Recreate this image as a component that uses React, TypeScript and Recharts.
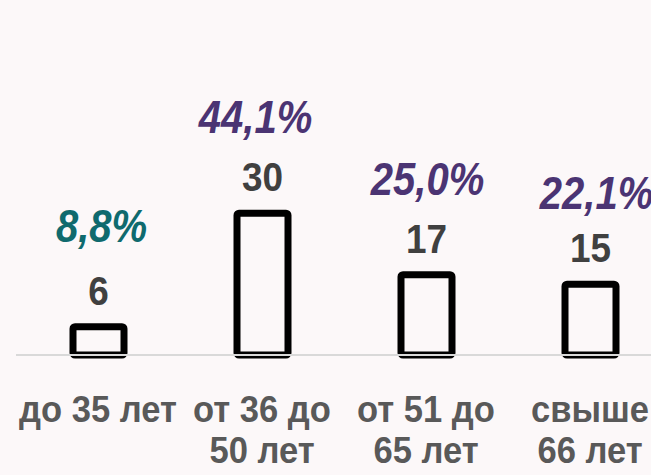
import { BarChart, Bar, XAxis, YAxis, LabelList } from 'recharts';

const categories = ['до 35 лет', 'от 36 до|50 лет', 'от 51 до|65 лет', 'свыше|66 лет'];
const counts = [6, 30, 17, 15];
const shares = ['8,8%', '44,1%', '25,0%', '22,1%'];
const shareColors = ['#0F6A6E', '#4B3473', '#4B3473', '#4B3473'];
// the percent labels sit a little off-centre in the original
const shareDx = [3, -7, 1, 6];
const shareDy = [85, 80, 80, 75];

const data = categories.map((name, i) => ({ name, count: counts[i], share: shares[i] }));

const FONT = "'Liberation Sans', Arial, sans-serif";

// the reference uses a condensed face, so squeeze Liberation Sans horizontally
const Narrow = ({ x, y, size, squeeze, color, italic, children }: any) => (
  <text
    transform={`translate(${x},${y}) scale(${squeeze},1)`}
    textAnchor="middle"
    fontFamily={FONT}
    fontWeight="bold"
    fontStyle={italic ? 'italic' : 'normal'}
    fontSize={size}
    fill={color}
  >
    {children}
  </text>
);

const CategoryTick = ({ x, y, payload }: any) => {
  const lines = String(payload.value).split('|');
  return (
    <g>
      {lines.map((line, i) => (
        <Narrow key={i} x={x} y={y + 59 + i * 41} size={36} squeeze={0.96} color="#595959">
          {line}
        </Narrow>
      ))}
    </g>
  );
};

const CountLabel = ({ x, y, width, value }: any) => (
  <Narrow x={x + width / 2} y={y - 22} size={41} squeeze={0.9} color="#404040">
    {value}
  </Narrow>
);

const ShareLabel = ({ x, y, width, value, index }: any) => (
  <Narrow
    x={x + width / 2 + shareDx[index]}
    y={y - shareDy[index]}
    size={46}
    squeeze={0.87}
    color={shareColors[index]}
    italic
  >
    {value}
  </Narrow>
);

export default function App() {
  return (
    <div
      style={{
        position: 'fixed',
        left: 0,
        top: 0,
        width: 651,
        height: 475,
        overflow: 'hidden',
        background: '#FCF8F9',
      }}
    >
      <BarChart
        width={672}
        height={475}
        data={data}
        margin={{ top: 166, right: 0, left: 16, bottom: 90 }}
      >
        <XAxis
          dataKey="name"
          height={30}
          axisLine={{ stroke: '#D9D9D9', strokeWidth: 2 }}
          tickLine={false}
          tick={<CategoryTick />}
          interval={0}
        />
        <YAxis hide domain={[0, 40]} />
        <Bar
          dataKey="count"
          barSize={51}
          fill="#FCF8F9"
          stroke="#000000"
          strokeWidth={7}
          radius={2}
          isAnimationActive={false}
        >
          <LabelList dataKey="count" content={<CountLabel />} />
          <LabelList dataKey="share" content={<ShareLabel />} />
        </Bar>
      </BarChart>
    </div>
  );
}
